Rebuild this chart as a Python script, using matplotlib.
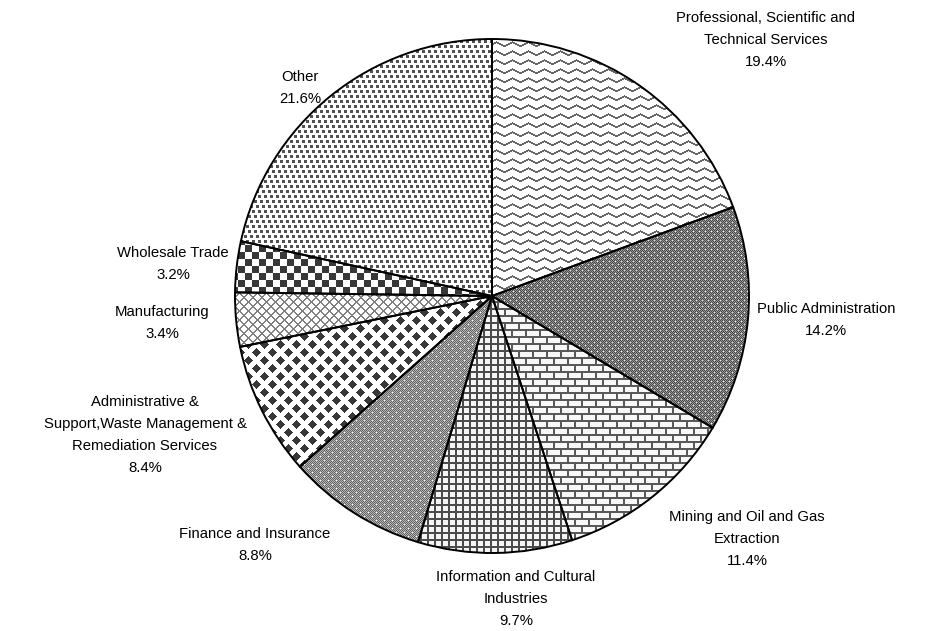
import numpy as np
import matplotlib
matplotlib.use("Agg")
import matplotlib.pyplot as plt

# data
sectors = ["Professional, Scientific and\nTechnical Services",
           "Public Administration",
           "Mining and Oil and Gas\nExtraction",
           "Information and Cultural\nIndustries",
           "Finance and Insurance",
           "Administrative &\nSupport,Waste Management &\nRemediation Services",
           "Manufacturing",
           "Wholesale Trade",
           "Other"]
shares = [19.4, 14.2, 11.4, 9.7, 8.8, 8.4, 3.4, 3.2, 21.6]

# label positions in pixels (x, y from top)
label_pos = [(766, 40), (826, 320), (747, 539), (516, 599), (255, 545),
             (145, 435), (162, 323), (173, 264), (300, 88)]

W, H = 925, 631
plt.rcParams['font.family'] = ['Liberation Sans', 'DejaVu Sans']

fig = plt.figure(figsize=(W / 100, H / 100), dpi=100)
ax = fig.add_axes([0, 0, 1, 1])

cx, cy, r = 492, H - 296, 257

wedges, _ = ax.pie(shares, startangle=90, counterclock=False, center=(cx, cy),
                   radius=r, wedgeprops=dict(facecolor='none', edgecolor='black',
                                             linewidth=1.4))

# fill textures, one per slice
X, Y = np.meshgrid(np.arange(W), np.arange(H))


def wave():
    off = 4 * np.abs((X % 16) / 16 * 2 - 1)
    return np.where((Y + off) % 9 < 2, 0.4, 1.0)


def dense():
    v = np.where((X + Y) % 2 == 0, 0.28, 0.6)
    v[(X % 6 == 3) & (Y % 6 == 3)] = 1.0
    v[(X % 6 == 0) & (Y % 6 == 0)] = 0.9
    return v


def bricks():
    row = (Y // 7) % 2
    m = (Y % 7 < 2) | ((X + 7 * row) % 14 < 2)
    return np.where(m, 0.35, 0.97)


def grid():
    return np.where((X % 7 < 2) | (Y % 7 < 2), 0.3, 0.96)


def fine():
    v = np.where((X + Y) % 2 == 0, 0.38, 0.72)
    v[((X % 8 == 4) & (Y % 8 == 4)) | ((X % 8 == 0) & (Y % 8 == 0))] = 1.0
    return v


def diamonds():
    d1 = np.abs((X % 16) - 8) + np.abs((Y % 16) - 8)
    d2 = np.abs(((X + 8) % 16) - 8) + np.abs(((Y + 8) % 16) - 8)
    return np.where(np.minimum(d1, d2) < 5, 0.22, 1.0)


def lattice():
    m = ((X + Y) % 9 < 1.5) | ((X - Y) % 9 < 1.5)
    return np.where(m, 0.5, 1.0)


def checker():
    return np.where(((X // 7) + (Y // 7)) % 2 == 0, 0.22, 1.0)


def dots():
    m = (Y % 5 < 3) & ((X - 2 * (Y // 5)) % 6 < 3)
    return np.where(m, 0.32, 1.0)


textures = [wave, dense, bricks, grid, fine, diamonds, lattice, checker, dots]

for w, tex in zip(wedges, textures):
    im = ax.imshow(tex(), cmap='gray', vmin=0, vmax=1, interpolation='nearest',
                   extent=(0, W, 0, H), origin='upper', zorder=0)
    im.set_clip_path(w)

for name, val, (lx, ly) in zip(sectors, shares, label_pos):
    ax.text(lx, H - ly, f"{name}\n{val:.1f}%", ha='center', va='center',
            fontsize=10.7, linespacing=1.75, color='black')

ax.set_xlim(0, W)
ax.set_ylim(0, H)
ax.set_aspect('auto')
ax.axis('off')

fig.savefig("out.png", dpi=100)
